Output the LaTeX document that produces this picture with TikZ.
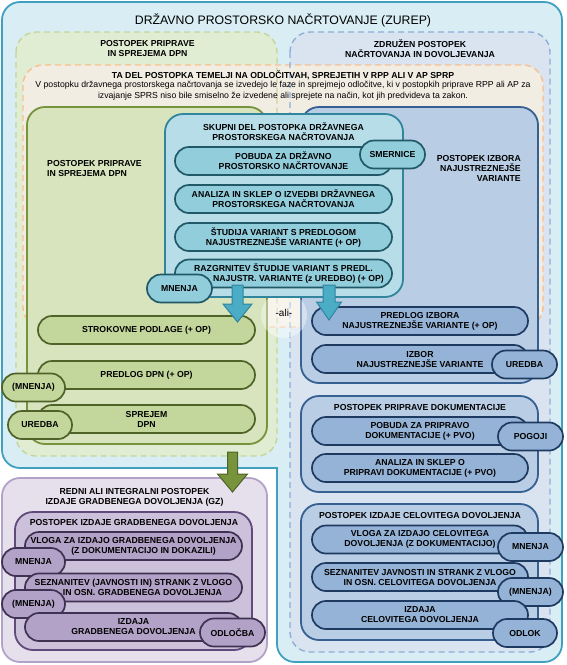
\documentclass[tikz,border=0pt]{standalone}
\usepackage{fontspec}
\setmainfont{Liberation Sans}
\usetikzlibrary{calc}
\definecolor{zfill}{HTML}{D8EDF4}\definecolor{zdraw}{HTML}{3FA0C0}
\definecolor{gdfill}{HTML}{E1EDD3}\definecolor{gddraw}{HTML}{C2D69B}
\definecolor{bdfill}{HTML}{D9E4F0}\definecolor{bddraw}{HTML}{8EAED6}
\definecolor{odfill}{HTML}{F2EDE3}\definecolor{oddraw}{HTML}{F9BF8F}
\definecolor{gbfill}{HTML}{D7E4BD}\definecolor{gbdraw}{HTML}{77933C}
\definecolor{gpfill}{HTML}{C3D69B}\definecolor{gpdraw}{HTML}{4F6228}
\definecolor{sbfill}{HTML}{B7DDE8}\definecolor{sbdraw}{HTML}{31859C}
\definecolor{spfill}{HTML}{92CDDC}\definecolor{spdraw}{HTML}{215968}
\definecolor{bbfill}{HTML}{B9CDE5}\definecolor{bbdraw}{HTML}{376092}
\definecolor{bpfill}{HTML}{95B3D7}\definecolor{bpdraw}{HTML}{1F3A60}
\definecolor{pofill}{HTML}{E6E0EC}\definecolor{podraw}{HTML}{B3A2C7}
\definecolor{pifill}{HTML}{CCC1DA}\definecolor{pidraw}{HTML}{604A7B}
\definecolor{ppfill}{HTML}{B3A2C7}\definecolor{ppdraw}{HTML}{3F3151}
\definecolor{bafill}{HTML}{4BACC6}\definecolor{badraw}{HTML}{31859C}
\definecolor{gafill}{HTML}{77933C}\definecolor{gadraw}{HTML}{4F6228}
\newcommand\bsf{\fontsize{8.7}{10}\selectfont\bfseries}
\newcommand\rsf{\fontsize{8.7}{11}\selectfont}
\newcommand\blockarrow[6]{% x, ytop, ytip, shaft half, head half, style
  \draw[#6] ({#1-#4},#2) -- ({#1+#4},#2) -- ({#1+#4},#3-18) -- ({#1+#5},#3-18) -- (#1,#3) -- ({#1-#5},#3-18) -- ({#1-#4},#3-18) -- cycle;}
\tikzset{
  lbl/.style={font=\bsf, align=center, inner sep=0pt},
  dbox/.style={dash pattern=on 6pt off 4pt, line width=1.4pt, rounded corners=20pt},
  sbox/.style={line width=1.8pt, rounded corners=18pt},
  pill/.style={rounded corners=14pt, line width=1.7pt, minimum height=28pt, inner sep=0pt, font=\bsf, align=center},
  gpill/.style={pill, fill=gpfill, draw=gpdraw},
  spill/.style={pill, fill=spfill, draw=spdraw},
  bpill/.style={pill, fill=bpfill, draw=bpdraw},
  ppill/.style={pill, fill=ppfill, draw=ppdraw},
  barrow/.style={fill=bafill, draw=badraw, line width=1pt, line join=miter},
  garrow/.style={fill=gafill, draw=gadraw, line width=1pt, line join=miter},
}
\begin{document}
\begin{tikzpicture}[x=1pt,y=-1pt]
\useasboundingbox (0,0) rectangle (566,665);
% outer ZUREP area
\fill[zfill, rounded corners=18pt] (2,2) rectangle (562,468);
\fill[zfill, rounded corners=18pt] (277,300) rectangle (562,662);
\draw[draw=zdraw, line width=1.8pt, line cap=rect, rounded corners=18pt] (277,468) -- (277,662) -- (562,662) -- (562,2) -- (2,2) -- (2,468) -- (277,468);
\node[font=\fontsize{12.3}{14}\selectfont, inner sep=0pt] (ttl) at (283,20) {DRŽAVNO PROSTORSKO NAČRTOVANJE (ZUREP)};
% dashed areas: fills
\fill[gdfill, rounded corners=20pt] (16,32) rectangle (277,456);
\fill[bdfill, rounded corners=20pt] (290,32) rectangle (550,652);
\fill[odfill, rounded corners=20pt] (23,65) rectangle (543,327);
% dashed borders
\draw[dbox, draw=oddraw] (23,65) rectangle (543,327);
\draw[dbox, draw=gddraw] (16,32) rectangle (277,456);
\draw[dbox, draw=bddraw] (290,32) rectangle (550,652);
\node[lbl] (gdl) at (147.5,49) {POSTOPEK PRIPRAVE\\IN SPREJEMA DPN};
\node[lbl] (bdl) at (420,49) {ZDRUŽEN POSTOPEK\\NAČRTOVANJA IN DOVOLJEVANJA};
\node[lbl] (odl) at (283,75) {TA DEL POSTOPKA TEMELJI NA ODLOČITVAH, SPREJETIH V RPP ALI V AP SPRP};
\node[font=\rsf, align=center, inner sep=0pt] (odt) at (283,90.5) {V postopku državnega prostorskega načrtovanja se izvedejo le faze in sprejmejo odločitve, ki v postopkih priprave RPP ali AP za\\izvajanje SPRS niso bile smiselno že izvedene ali sprejete na način, kot jih predvideva ta zakon.};
% solid boxes
\draw[sbox, fill=gbfill, draw=gbdraw] (27,107) rectangle (267,444);
\draw[sbox, fill=bbfill, draw=bbdraw] (301,107) rectangle (538,383);
\fill[white, opacity=0.4] (284,315) circle (23);
\node[font=\fontsize{10}{12}\selectfont, inner sep=0pt] (ali) at (284,313) {-ali-};
\node[lbl, anchor=west, align=left] (gbl) at (47,168.5) {POSTOPEK PRIPRAVE\\IN SPREJEMA DPN};
\node[lbl, anchor=east, align=right] (bbl) at (521,168.5) {POSTOPEK IZBORA\\NAJUSTREZNEJŠE\\VARIANTE};
\draw[sbox, fill=sbfill, draw=sbdraw] (165,114) rectangle (403,297);
\node[lbl] (sbl) at (283.5,131.5) {SKUPNI DEL POSTOPKA DRŽAVNEGA\\PROSTORSKEGA NAČRTOVANJA};
% skupni pills
\node[spill, minimum width=217pt] (pob1) at (283.5,161) {POBUDA ZA DRŽAVNO\\PROSTORSKO NAČRTOVANJE};
\node[spill, minimum width=217pt] (ana1) at (283.5,199) {ANALIZA IN SKLEP O IZVEDBI DRŽAVNEGA\\PROSTORSKEGA NAČRTOVANJA};
\node[spill, minimum width=217pt] (stu) at (283.5,237) {ŠTUDIJA VARIANT S PREDLOGOM\\NAJUSTREZNEJŠE VARIANTE (+ OP)};
\node[spill, minimum width=217pt] (raz) at (283.5,273.5) {RAZGRNITEV ŠTUDIJE VARIANT S PREDL.\\\hspace*{30pt}NAJUSTR. VARIANTE (z UREDBO) (+ OP)};
\node[spill, minimum width=65pt] (smer) at (392.5,154.5) {SMERNICE};
\node[spill, minimum width=65pt] (mn0) at (179.5,288.5) {MNENJA};
% green pills
\node[gpill, minimum width=217pt] (strok) at (146.5,330) {STROKOVNE PODLAGE (+ OP)};
\node[gpill, minimum width=217pt] (pdpn) at (146.5,375) {PREDLOG DPN (+ OP)};
\node[gpill, minimum width=217pt] (sdpn) at (146.5,419) {SPREJEM\\DPN};
\node[gpill, minimum width=63pt] (mn1) at (33.5,387.5) {(MNENJA)};
\node[gpill, minimum width=64pt] (ur1) at (40,425) {UREDBA};
% blue pills
\node[bpill, minimum width=216pt] (pizb) at (420,321) {PREDLOG IZBORA\\NAJUSTREZNEJŠE VARIANTE (+ OP)};
\node[bpill, minimum width=216pt] (izb) at (420,359) {IZBOR\\NAJUSTREZNEJŠE VARIANTE};
\node[bpill, minimum width=65pt] (ur2) at (524.5,364.5) {UREDBA};
% documentation box
\draw[sbox, fill=bbfill, draw=bbdraw] (301,396) rectangle (538,492);
\node[lbl] (dokl) at (420,407) {POSTOPEK PRIPRAVE DOKUMENTACIJE};
\node[bpill, minimum width=216pt] (pob2) at (420,431) {POBUDA ZA PRIPRAVO\\DOKUMENTACIJE (+ PVO)};
\node[bpill, minimum width=65pt] (pog) at (530.5,436.5) {POGOJI};
\node[bpill, minimum width=216pt] (ana2) at (420,468) {ANALIZA IN SKLEP O\\PRIPRAVI DOKUMENTACIJE (+ PVO)};
% celovito box
\draw[sbox, fill=bbfill, draw=bbdraw] (301,504) rectangle (538,640);
\node[lbl] (cell) at (420,515) {POSTOPEK IZDAJE CELOVITEGA DOVOLJENJA};
\node[bpill, minimum width=216pt] (vlo2) at (420,539.5) {VLOGA ZA IZDAJO CELOVITEGA\\DOVOLJENJA (Z DOKUMENTACIJO)};
\node[bpill, minimum width=65pt] (mn4) at (530.5,547) {MNENJA};
\node[bpill, minimum width=216pt] (sez2) at (420,577) {SEZNANITEV JAVNOSTI IN STRANK Z VLOGO\\IN OSN. CELOVITEGA DOVOLJENJA};
\node[bpill, minimum width=65pt] (mn5) at (530.5,592) {(MNENJA)};
\node[bpill, minimum width=216pt] (izd2) at (420,615) {IZDAJA\\CELOVITEGA DOVOLJENJA};
\node[bpill, minimum width=64pt] (odlok) at (525,633) {ODLOK};
% purple area
\draw[line width=1.8pt, rounded corners=18pt, fill=pofill, draw=podraw] (2,478) rectangle (267,662);
\node[lbl] (pol) at (134.5,497) {REDNI ALI INTEGRALNI POSTOPEK\\IZDAJE GRADBENEGA DOVOLJENJA (GZ)};
\draw[sbox, fill=pifill, draw=pidraw] (15,512) rectangle (252,650);
\node[lbl] (pil) at (134,522) {POSTOPEK IZDAJE GRADBENEGA DOVOLJENJA};
\node[ppill, minimum width=217pt] (vlo1) at (133.5,546) {VLOGA ZA IZDAJO GRADBENEGA DOVOLJENJA\\\hspace*{20pt}(Z DOKUMENTACIJO IN DOKAZILI)};
\node[ppill, minimum width=63pt] (mn2) at (33.5,562) {MNENJA};
\node[ppill, minimum width=217pt] (sez1) at (133.5,587.5) {SEZNANITEV (JAVNOSTI IN) STRANK Z VLOGO\\\hspace*{18pt}IN OSN. GRADBENEGA DOVOLJENJA};
\node[ppill, minimum width=63pt] (mn3) at (33.5,604) {(MNENJA)};
\node[ppill, minimum width=217pt] (izd1) at (133.5,627) {IZDAJA\\GRADBENEGA DOVOLJENJA};
\node[ppill, minimum width=65pt] (odl1) at (232.5,632.5) {ODLOČBA};
% block arrows
\blockarrow{237.5}{285}{322}{5.5}{14.5}{barrow}
\blockarrow{329}{285}{320}{6}{12.5}{barrow}
\blockarrow{232.5}{452}{492}{5}{15}{garrow}
\end{tikzpicture}
\end{document}
